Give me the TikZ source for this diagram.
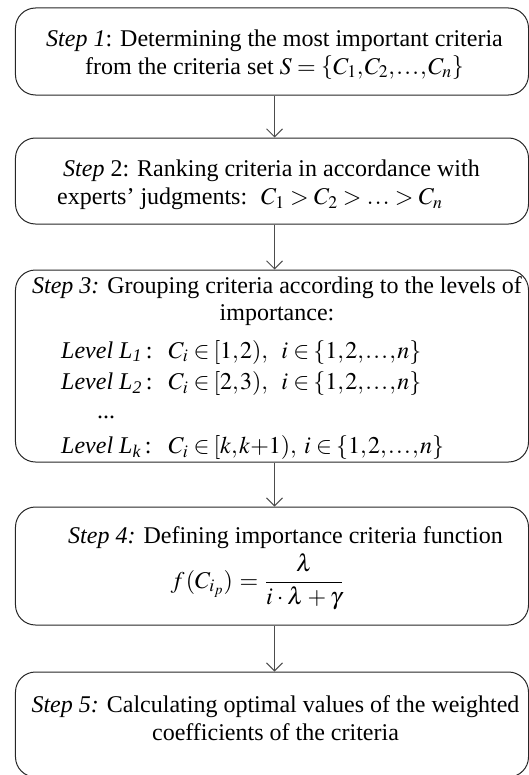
\documentclass[tikz,border=0pt]{standalone}
\usepackage{mathptmx}
\usepackage{fontspec}
\setmainfont{Liberation Serif}
\usetikzlibrary{arrows.meta}
\thinmuskip=1mu \medmuskip=3mu \thickmuskip=4mu
\newcommand{\idxset}{\left\{1,2,\ldots,n\right\}}
\begin{document}
\begin{tikzpicture}[
  x=1bp, y=-1bp,
  stepbox/.style={draw=black!85, line width=1bp, rounded corners=20bp,
    minimum width=513bp, inner sep=0pt},
  steptext/.style={font=\fontsize{24bp}{28bp}\selectfont, inner sep=0pt},
  flow/.style={draw=black!70, line width=1bp,
    -{Straight Barb[length=8bp,width=16bp]}}
]
\useasboundingbox (0,0) rectangle (529,775);
\node[stepbox, minimum height=87bp] (b1) at (272,51.5) {};
\node[stepbox, minimum height=86bp] (b2) at (272,181) {};
\node[stepbox, minimum height=192bp] (b3) at (272,366) {};
\node[stepbox, minimum height=118bp] (b4) at (272,566) {};
\node[stepbox, minimum height=105bp] (b5) at (272,724.5) {};

\node[steptext, align=center, anchor=north] (t1) at (274.5,29.2)
  {\textit{Step 1}: Determining the most important criteria\\
   from the criteria set $S=\left\{C_1,C_2,\ldots,C_n\right\}$};
\node[steptext, align=left, anchor=north west] (t2) at (57,159.6)
  {\hspace*{6bp}\textit{Step} 2: Ranking criteria in accordance with\\
   experts' judgments: \ $C_1>C_2>\ldots>C_n$};
\node[steptext, align=center, anchor=north, font=\fontsize{24bp}{27bp}\selectfont]
  (t3) at (277,276.6)
  {\textit{Step 3:} Grouping criteria according to the levels of\\ importance:};
\node[steptext, anchor=north west] (lv) at (61,338.4)
  {\begin{tabular}{@{}l@{\hspace{16bp}}l@{}}
   \textit{Level L\textsubscript{1}}\,: & $C_i\in\![1,2),\ \ i\in\!\idxset$\\[3.5bp]
   \textit{Level L\textsubscript{2}}\,: & $C_i\in\![2,3),\ \ i\in\!\idxset$\\[0.5bp]
   \hspace*{36bp}... & \\[7.7bp]
   \textit{Level L\textsubscript{k}}\,: & $C_i\in\![k,k{+}1),\ i\in\!\idxset$
   \end{tabular}};
\node[steptext, anchor=base] (t4) at (285.5,543)
  {\textit{Step 4:} Defining importance criteria function};
\node[steptext, anchor=base] (f4) at (257,588)
  {$\displaystyle f\,(C_{i_p})\,=\,\frac{\lambda}{i\cdot\lambda+\gamma}$};
\node[steptext, align=center, anchor=north] (t5) at (275.5,695.6)
  {\textit{Step 5:} Calculating optimal values of the weighted\\
   coefficients of the criteria};

\draw[flow] ([xshift=2.5bp]b1.south) -- ([xshift=2.5bp]b2.north);
\draw[flow] ([xshift=2.5bp]b2.south) -- ([xshift=2.5bp]b3.north);
\draw[flow] ([xshift=2.5bp]b3.south) -- ([xshift=2.5bp]b4.north);
\draw[flow] ([xshift=2.5bp]b4.south) -- ([xshift=2.5bp]b5.north);
\end{tikzpicture}
\end{document}
